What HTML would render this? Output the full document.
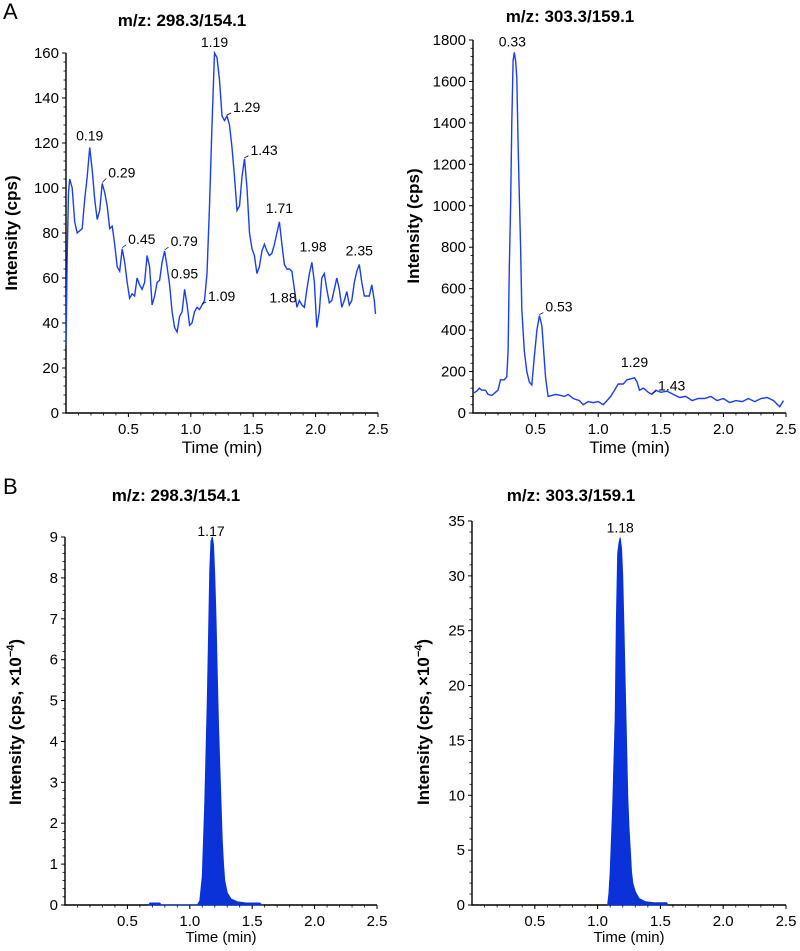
<!DOCTYPE html>
<html><head><meta charset="utf-8">
<style>
html,body{margin:0;padding:0;background:#fff;}
svg{display:block;font-family:"Liberation Sans",Arial,sans-serif;}
</style></head>
<body>
<svg id="fig" width="800" height="951" viewBox="0 0 800 951">
<text x="3" y="19" font-size="22">A</text>
<text x="3" y="494" font-size="22">B</text>
</svg>
<script>
// ---------- Data ----------
const aLeftTimes = [0,0.01,0.02,0.03,0.05,0.07,0.09,0.11,0.13,0.15,0.17,0.19,0.21,0.23,0.25,0.27,0.29,0.31,0.33,0.35,0.37,0.39,0.41,0.43,0.45,0.47,0.49,0.51,0.53,0.55,0.57,0.59,0.61,0.63,0.65,0.67,0.69,0.71,0.73,0.75,0.77,0.79,0.81,0.83,0.85,0.87,0.89,0.91,0.93,0.95,0.97,0.99,1.01,1.03,1.05,1.07,1.09,1.11,1.13,1.15,1.17,1.19,1.21,1.23,1.25,1.27,1.29,1.31,1.33,1.35,1.37,1.39,1.41,1.43,1.45,1.47,1.49,1.51,1.53,1.55,1.57,1.59,1.61,1.63,1.65,1.67,1.69,1.71,1.73,1.75,1.77,1.79,1.81,1.83,1.85,1.87,1.89,1.91,1.93,1.95,1.97,1.99,2.01,2.03,2.05,2.07,2.09,2.11,2.13,2.15,2.17,2.19,2.21,2.23,2.25,2.27,2.29,2.31,2.33,2.35,2.37,2.39,2.41,2.43,2.45,2.47,2.48];
const aLeftValues = [30,70,98,104,100,85,80,81,82,95,105,118,108,95,86,90,102,98,92,82,83,75,65,63,73,67,58,51,53,52,60,57,55,58,70,65,48,52,58,59,67,72,65,57,45,38,36,43,45,55,48,39,40,45,47,46,48,50,62,92,128,160,158,148,132,130,132,128,118,105,90,92,105,113,100,80,73,70,62,65,72,75,72,70,71,75,80,85,75,66,64,64,63,55,47,50,48,47,55,62,67,58,38,45,60,62,55,49,50,55,60,55,47,50,54,48,50,58,63,66,58,52,52,52,57,50,44];
const aLeftPeakTimes = [0.19,0.29,0.45,0.79,0.95,1.09,1.19,1.29,1.43,1.71,1.88,1.98,2.35];
const aLeftPeakLabels = ["0.19","0.29","0.45","0.79","0.95","1.09","1.19","1.29","1.43","1.71","1.88","1.98","2.35"];

const aRightTimes = [0,0.03,0.05,0.07,0.1,0.12,0.15,0.18,0.2,0.22,0.25,0.27,0.28,0.29,0.3,0.31,0.32,0.33,0.34,0.35,0.36,0.37,0.38,0.39,0.41,0.43,0.45,0.47,0.49,0.51,0.53,0.55,0.57,0.58,0.6,0.63,0.66,0.7,0.73,0.76,0.8,0.85,0.88,0.92,0.96,1.0,1.04,1.07,1.1,1.13,1.16,1.2,1.23,1.26,1.29,1.31,1.33,1.36,1.4,1.43,1.46,1.5,1.55,1.6,1.65,1.7,1.75,1.8,1.85,1.9,1.95,2.0,2.05,2.1,2.15,2.2,2.25,2.3,2.35,2.4,2.45,2.48];
const aRightValues = [95,105,120,110,110,90,85,100,110,160,160,175,300,700,1000,1400,1700,1740,1700,1620,1300,1050,800,500,300,200,150,135,270,400,470,420,250,170,80,85,90,85,80,90,70,60,40,55,50,55,40,60,80,110,140,140,160,165,170,150,110,120,100,90,110,100,105,90,75,80,60,70,70,80,60,70,50,60,55,70,55,70,75,60,30,60];
const aRightPeakTimes = [0.33,0.53,1.29,1.43];
const aRightPeakLabels = ["0.33","0.53","1.29","1.43"];

const bLeftTimes = [0.67,0.68,0.76,0.77,1.06,1.08,1.1,1.12,1.14,1.15,1.16,1.17,1.18,1.19,1.2,1.21,1.22,1.23,1.24,1.25,1.26,1.27,1.28,1.3,1.33,1.38,1.45,1.56,1.58];
const bLeftValues = [0,0.05,0.05,0,0,0.1,0.7,2.5,5,6.5,8.2,8.9,9.0,8.8,8.0,7.0,5.6,4.4,3.4,2.5,1.6,1.0,0.6,0.3,0.15,0.08,0.05,0.05,0];
const bLeftPeakTimes = [1.17];
const bLeftPeakLabels = ["1.17"];

const bRightTimes = [1.08,1.09,1.1,1.12,1.14,1.15,1.16,1.17,1.18,1.19,1.2,1.21,1.22,1.23,1.24,1.25,1.26,1.27,1.28,1.3,1.33,1.38,1.45,1.55,1.56];
const bRightValues = [0,1,3,9,17,26,32,33,33.5,32.5,30,25,20,15,10,7,5,3,2,1.2,0.6,0.3,0.2,0.2,0];
const bRightPeakTimes = [1.18];
const bRightPeakLabels = ["1.18"];

const tlYTicks = [0,20,40,60,80,100,120,140,160];
const trYTicks = [0,200,400,600,800,1000,1200,1400,1600,1800];
const blYTicks = [0,1,2,3,4,5,6,7,8,9];
const brYTicks = [0,5,10,15,20,25,30,35];
const xTicks = [0.5,1.0,1.5,2.0,2.5];
const xTickLabels = ["0.5","1.0","1.5","2.0","2.5"];

// ---------- Drawing ----------
const NS = "http://www.w3.org/2000/svg";
const svg = document.getElementById("fig");
function mk(tag, attrs, parent){
  const e = document.createElementNS(NS, tag);
  for (const k in attrs) e.setAttribute(k, attrs[k]);
  (parent||svg).appendChild(e);
  return e;
}
function interp(times, vals, t){
  let best = 0, bd = 1e9;
  for (let i=0;i<times.length;i++){ const d=Math.abs(times[i]-t); if(d<bd){bd=d;best=i;} }
  return vals[best];
}

function panel(cfg){
  const g = mk("g", {});
  
  
  const X = t => cfg.x0 + (t/2.5)*(cfg.x1-cfg.x0);
  const Y = v => cfg.y0 - (v/cfg.ymax)*(cfg.y0-cfg.ytop);
  const tt = mk("text", {x:cfg.titleX, y:cfg.titleY, "font-size":17, "font-weight":"bold", "text-anchor":"middle"}, g);
  tt.textContent = cfg.title;
  
  
  const ax = mk("path", {d:`M${cfg.x0},${cfg.ytop} V${cfg.y0} H${cfg.x1}`, stroke:"#000", "stroke-width":1.4, fill:"none"}, g);
  
  
  const yt = cfg.yTicks;
  const step = yt[1]-yt[0];
  for (let i=0;i<yt.length;i++){
    const y = Y(yt[i]);
    mk("line",{x1:cfg.x0-4,x2:cfg.x0,y1:y,y2:y,stroke:"#000","stroke-width":1},g);
    const lb = mk("text",{x:cfg.x0-7,y:y+5,"font-size":15,"text-anchor":"end"},g);
    lb.textContent = yt[i];
    
    
    if (i<yt.length-1){
      for (let k=1;k<5;k++){
        const ym = Y(yt[i]+step*k/5);
        mk("line",{x1:cfg.x0-2.5,x2:cfg.x0,y1:ym,y2:ym,stroke:"#000","stroke-width":0.8},g);
      }
    }
  }
  for (let t=0.1;t<2.5001;t+=0.1){
    const x = X(t);
    mk("line",{x1:x,x2:x,y1:cfg.y0,y2:cfg.y0+2.5,stroke:"#000","stroke-width":0.8},g);
  }
  for (let i=0;i<xTicks.length;i++){
    const x = X(xTicks[i]);
    mk("line",{x1:x,x2:x,y1:cfg.y0,y2:cfg.y0+4,stroke:"#000","stroke-width":1},g);
    const lb = mk("text",{x:x,y:cfg.y0+21,"font-size":15,"text-anchor":"middle"},g);
    lb.textContent = xTickLabels[i];
    
    
  }
  const xtl = mk("text",{x:(cfg.x0+cfg.x1)/2,y:cfg.y0+cfg.xTitleDy,"font-size":cfg.xTitleSize,"font-weight":cfg.xTitleWeight,"text-anchor":"middle"},g);
  xtl.textContent = "Time (min)";
  
  
  const ytl = mk("text",{x:0,y:0,"font-size":17,"font-weight":"bold","text-anchor":"middle",transform:`translate(${cfg.yTitleX},${cfg.yTitleY}) rotate(-90)`},g);
  if (cfg.yTitleSup){
    ytl.textContent = "Intensity (cps, \u00d710";
    const sp = mk("tspan",{"font-size":11,dy:-7},ytl); sp.textContent = "\u22124";
    const sp2 = mk("tspan",{dy:7},ytl); sp2.textContent = ")";
  } else ytl.textContent = "Intensity (cps)";
  
  
  let d = "";
  for (let i=0;i<cfg.times.length;i++) d += (i?"L":"M")+X(cfg.times[i]).toFixed(1)+","+Y(cfg.values[i]).toFixed(1);
  if (cfg.fill){
    d += `L${X(cfg.times[cfg.times.length-1])},${cfg.y0}L${X(cfg.times[0])},${cfg.y0}Z`;
    const p = mk("path",{d:d,fill:"#0a32d8",stroke:"#0a32d8","stroke-width":1},g);
    
    
  } else {
    const p = mk("path",{d:d,fill:"none",stroke:"#1a3ef0","stroke-width":1.4},g);
    
    
  }
  for (let i=0;i<cfg.peakTimes.length;i++){
    const t = cfg.peakTimes[i];
    const v = interp(cfg.times, cfg.values, t);
    const off = cfg.labelOffsets[i];
    const px = X(t), py = Y(v);
    if (off[2]){
      mk("line",{x1:px,y1:py-1,x2:px+off[0]-2,y2:py+off[1]+1,stroke:"#000","stroke-width":0.7},g);
    }
    const lb = mk("text",{x:px+off[0],y:py+off[1],"font-size":14,"text-anchor":off[2]?"start":(off[3]||"middle")},g);
    lb.textContent = cfg.peakLabels[i];
    
    
  }
}

panel({name:"panel-a-298", x0:66, x1:378, y0:413, ytop:53, ymax:160, yTicks:tlYTicks,
  title:"m/z: 298.3/154.1", titleX:182, titleY:26, times:aLeftTimes, values:aLeftValues,
  peakTimes:aLeftPeakTimes, peakLabels:aLeftPeakLabels,
  labelOffsets:[[0,-7],[6,-6,1],[6,-5,1],[6,-5,1],[0,-11],[6,-4,1],[0,-6],[6,-4,1],[6,-4,1],[0,-9],[-4,2,0,"end"],[0,-11],[0,-9]],
  xTitleDy:40, xTitleSize:17, xTitleWeight:"normal", yTitleX:17, yTitleY:233, yTitleSup:false});

panel({name:"panel-a-303", x0:473, x1:786, y0:413, ytop:40, ymax:1800, yTicks:trYTicks,
  title:"m/z: 303.3/159.1", titleX:570, titleY:22, times:aRightTimes, values:aRightValues,
  peakTimes:aRightPeakTimes, peakLabels:aRightPeakLabels,
  labelOffsets:[[-2,-6],[6,-4,1],[0,-11],[6,-4,1]],
  xTitleDy:40, xTitleSize:17, xTitleWeight:"normal", yTitleX:419, yTitleY:226, yTitleSup:false});

panel({name:"panel-b-298", x0:65, x1:377, y0:905, ytop:537, ymax:9, yTicks:blYTicks,
  title:"m/z: 298.3/154.1", titleX:176, titleY:501, times:bLeftTimes, values:bLeftValues,
  peakTimes:bLeftPeakTimes, peakLabels:bLeftPeakLabels, fill:true,
  labelOffsets:[[0,-5]],
  xTitleDy:37, xTitleSize:15, xTitleWeight:"normal", yTitleX:21, yTitleY:722, yTitleSup:true});

panel({name:"panel-b-303", x0:472, x1:786, y0:905, ytop:521, ymax:35, yTicks:brYTicks,
  title:"m/z: 303.3/159.1", titleX:571, titleY:501, times:bRightTimes, values:bRightValues,
  peakTimes:bRightPeakTimes, peakLabels:bRightPeakLabels, fill:true,
  labelOffsets:[[0,-5]],
  xTitleDy:37, xTitleSize:15, xTitleWeight:"normal", yTitleX:429, yTitleY:722, yTitleSup:true});
</script>
</body></html>
